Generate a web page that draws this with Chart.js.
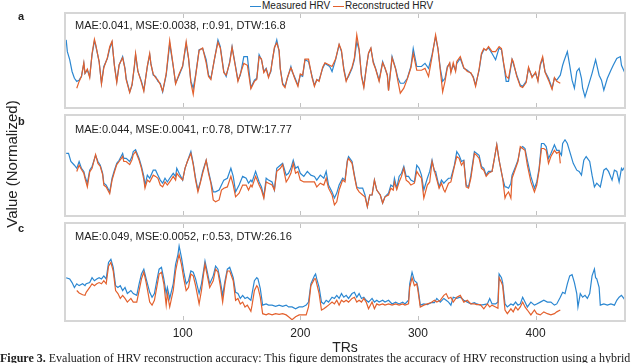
<!DOCTYPE html>
<html>
<head>
<meta charset="utf-8">
<script src="https://cdn.jsdelivr.net/npm/chart.js@4.4.1/dist/chart.umd.min.js"></script>
<style>
body { margin: 0; width: 640px; height: 363px; overflow: hidden; background: #fff; position: relative; font-family: "Liberation Sans", Arial, sans-serif; color: #222; }
canvas { position: absolute; left: 0; }
.stat { position: absolute; left: 75px; font-size: 11px; line-height: 13px; white-space: nowrap; }
.panel-label { position: absolute; left: 18px; font-weight: bold; font-size: 11px; line-height: 12px; }
#legend { position: absolute; top: 0; left: 250px; font-size: 10px; line-height: 11px; white-space: nowrap; }
#legend span.swatch { display: inline-block; width: 11px; height: 0; border-top: 1.5px solid; vertical-align: middle; margin-right: 1px; }
#ylabel { position: absolute; left: 11px; top: 164px; transform: translate(-50%, -50%) rotate(-90deg); font-size: 15px; white-space: nowrap; }
#caption { position: absolute; left: 0; top: 351px; font-family: "Liberation Serif", "Times New Roman", serif; font-size: 12px; line-height: 14px; white-space: nowrap; }
</style>
</head>
<body>
<div id="legend"><span class="swatch" style="border-color:#2b87d1"></span>Measured HRV <span class="swatch" style="border-color:#e3602d"></span>Reconstructed HRV</div>

<canvas id="chartA" width="640" height="99" style="top:11px"></canvas>
<canvas id="chartB" width="640" height="105" style="top:113px"></canvas>
<canvas id="chartC" width="640" height="136" style="top:221px"></canvas>

<div class="panel-label" style="top:10px">a</div>
<div class="panel-label" style="top:115px">b</div>
<div class="panel-label" style="top:222px">c</div>

<div class="stat" style="top:19px">MAE:0.041, MSE:0.0038, r:0.91, DTW:16.8</div>
<div class="stat" style="top:123px">MAE:0.044, MSE:0.0041, r:0.78, DTW:17.77</div>
<div class="stat" style="top:230px">MAE:0.049, MSE:0.0052, r:0.53, DTW:26.16</div>

<div id="ylabel">Value (Normalized)</div>
<div id="caption"><b>Figure 3.</b> Evaluation of HRV reconstruction accuracy: This figure demonstrates the accuracy of HRV reconstruction using a hybrid</div>

<script>
const xTicks = [100, 200, 300, 400];

// panel a
const trA = [
    1, 2, 4, 6, 8, 10, 12, 14, 16, 17,
    19, 21, 23, 25, 26, 29, 31, 33, 36, 38,
    40, 42, 44, 46, 49, 51, 52, 55, 57, 59,
    60, 62, 65, 67, 70, 72, 73, 75, 77, 79,
    81, 83, 86, 89, 92, 94, 97, 100, 103, 105,
    107, 109, 111, 114, 117, 120, 122, 124, 127, 130,
    132, 135, 137, 140, 142, 145, 147, 149, 152, 155,
    158, 161, 163, 165, 167, 169, 171, 173, 175, 176,
    178, 180, 182, 183, 185, 187, 189, 192, 193, 195,
    198, 200, 202, 204, 207, 210, 212, 214, 216, 219,
    221, 225, 227, 230, 233, 235, 237, 239, 241, 244,
    246, 248, 250, 252, 254, 256, 258, 260, 262, 264,
    267, 270, 272, 274, 275, 278, 281, 283, 285, 288,
    291, 294, 296, 299, 303, 306, 309, 312, 315, 317,
    319, 321, 323, 325, 327, 328, 330, 332, 333, 336,
    339, 342, 345, 347, 349, 352, 354, 356, 358, 360,
    363, 366, 369, 371, 373, 375, 377, 380, 381, 384,
    387, 389, 392, 394, 397, 400, 402, 404, 406, 408,
    411, 414, 416, 418, 421, 423, 424, 427, 429, 431,
    433, 435, 437, 439, 440, 442, 445, 448, 451, 454,
    456, 458, 461, 464, 466, 469, 472, 473, 476
];
const measA = [
    0.97, 0.78, 0.65, 0.46, 0.35, 0.30, 0.32, 0.38, 0.59, 0.43,
    0.48, 0.38, 0.73, 0.95, 0.89, 0.62, 0.27, 0.54, 0.67, 0.83,
    0.93, 0.56, 0.30, 0.56, 0.70, 0.51, 0.35, 0.13, 0.24, 0.54,
    0.73, 0.46, 0.30, 0.16, 0.54, 0.73, 0.59, 0.40, 0.38, 0.30,
    0.27, 0.13, 0.40, 0.91, 0.54, 0.27, 0.40, 0.54, 0.91, 0.67,
    0.30, 0.19, 0.40, 0.81, 0.83, 0.65, 0.40, 0.35, 0.65, 0.97,
    0.86, 0.46, 0.38, 0.62, 0.86, 0.54, 0.32, 0.40, 0.70, 0.70,
    0.20, 0.32, 0.35, 0.73, 0.65, 0.46, 0.51, 0.38, 0.46, 0.62,
    0.83, 0.97, 0.78, 0.51, 0.27, 0.22, 0.35, 0.54, 0.46, 0.38,
    0.24, 0.40, 0.38, 0.65, 0.62, 0.38, 0.24, 0.32, 0.32, 0.51,
    0.59, 0.54, 0.46, 0.65, 0.89, 0.78, 0.51, 0.32, 0.38, 0.51,
    0.65, 0.94, 0.81, 0.40, 0.22, 0.51, 0.75, 0.83, 0.62, 0.51,
    0.32, 0.62, 0.51, 0.40, 0.16, 0.70, 0.51, 0.35, 0.27, 0.27,
    0.35, 0.54, 0.83, 0.54, 0.54, 0.59, 0.51, 0.73, 1.02, 0.83,
    0.51, 0.30, 0.35, 0.54, 0.59, 0.46, 0.56, 0.48, 0.59, 0.67,
    0.51, 0.48, 0.43, 0.38, 0.24, 0.48, 0.73, 0.81, 0.81, 0.84,
    0.75, 0.65, 0.84, 0.81, 0.56, 0.30, 0.30, 0.65, 0.59, 0.40,
    0.24, 0.22, 0.30, 0.51, 0.38, 0.43, 0.32, 0.56, 0.67, 0.46,
    0.35, 0.19, 0.35, 0.32, 0.40, 0.56, 0.62, 0.78, 0.56, 0.32,
    0.19, 0.46, 0.51, 0.35, 0.19, 0.05, 0.24, 0.43, 0.65, 0.40,
    0.32, 0.16, 0.35, 0.48, 0.56, 0.67, 0.70, 0.56, 0.43
];
const recA = [
    null, null, null, null, null, 0.19, 0.30, 0.38, 0.60, 0.43,
    0.50, 0.36, 0.75, 0.98, 0.90, 0.62, 0.26, 0.52, 0.68, 0.86,
    0.95, 0.55, 0.28, 0.57, 0.68, 0.50, 0.33, 0.12, 0.25, 0.56,
    0.75, 0.46, 0.28, 0.14, 0.55, 0.75, 0.58, 0.42, 0.36, 0.32,
    0.25, 0.14, 0.42, 0.96, 0.55, 0.26, 0.42, 0.55, 0.94, 0.68,
    0.28, 0.09, 0.38, 0.80, 0.84, 0.60, 0.38, 0.33, 0.66, 0.93,
    0.84, 0.44, 0.40, 0.60, 0.85, 0.52, 0.30, 0.42, 0.59, 0.56,
    0.18, 0.30, 0.33, 0.70, 0.66, 0.44, 0.50, 0.36, 0.48, 0.60,
    0.85, 0.92, 0.80, 0.50, 0.25, 0.20, 0.36, 0.52, 0.48, 0.36,
    0.22, 0.42, 0.40, 0.66, 0.66, 0.36, 0.22, 0.33, 0.30, 0.53,
    0.60, 0.56, 0.54, 0.66, 0.90, 0.80, 0.48, 0.30, 0.40, 0.53,
    0.68, 1.05, 0.82, 0.38, 0.20, 0.50, 0.76, 0.84, 0.60, 0.50,
    0.30, 0.60, 0.52, 0.40, 0.15, 0.68, 0.50, 0.30, 0.11, 0.19,
    0.34, 0.52, 0.75, 0.48, 0.48, 0.51, 0.38, 0.70, 1.05, 0.83,
    0.48, 0.13, 0.30, 0.52, 0.60, 0.44, 0.60, 0.46, 0.62, 0.70,
    0.52, 0.46, 0.44, 0.36, 0.22, 0.50, 0.75, 0.83, 0.80, 0.86,
    0.78, 0.78, 0.86, 0.83, 0.58, 0.38, 0.35, 0.66, 0.62, 0.38,
    0.22, 0.20, 0.28, 0.53, 0.36, 0.45, 0.30, 0.58, 0.70, 0.45,
    0.32, 0.17, 0.36, 0.30, 0.27, null, null, null, null, null,
    null, null, null, null, null, null, null, null, null, null,
    null, null, null, null, null, null, null, null, null
];

// panel b
const trB = [
    1, 3, 5, 8, 10, 12, 14, 16, 17, 19,
    21, 23, 26, 28, 30, 32, 33, 35, 38, 40,
    42, 44, 46, 49, 50, 52, 55, 57, 58, 60,
    63, 65, 67, 68, 70, 72, 75, 77, 79, 81,
    83, 85, 87, 89, 92, 94, 95, 97, 100, 102,
    104, 107, 109, 111, 113, 115, 117, 120, 122, 124,
    126, 128, 131, 133, 135, 138, 141, 143, 145, 148,
    151, 154, 156, 158, 159, 162, 165, 167, 169, 171,
    173, 176, 178, 180, 183, 185, 188, 190, 192, 194,
    196, 198, 200, 203, 206, 209, 212, 214, 217, 220,
    222, 224, 227, 229, 231, 233, 236, 238, 240, 241,
    244, 246, 248, 250, 253, 255, 257, 259, 261, 263,
    265, 268, 270, 272, 275, 277, 279, 280, 282, 284,
    286, 288, 290, 292, 294, 297, 299, 301, 303, 305,
    308, 310, 312, 314, 315, 318, 320, 322, 323, 326,
    328, 331, 333, 335, 337, 339, 341, 343, 345, 348,
    350, 352, 354, 356, 358, 360, 363, 365, 367, 369,
    372, 374, 375, 377, 379, 380, 383, 385, 387, 389,
    391, 393, 396, 399, 401, 403, 405, 407, 409, 411,
    413, 416, 418, 420, 421, 422, 423, 425, 427, 430,
    432, 435, 437, 439, 441, 443, 446, 448, 450, 452,
    455, 458, 460, 462, 465, 467, 469, 471, 473, 474,
    476
];
const measB = [
    0.88, 0.88, 0.75, 0.69, 0.64, 0.75, 0.64, 0.59, 0.51, 0.40,
    0.61, 0.67, 0.85, 0.75, 0.69, 0.56, 0.40, 0.37, 0.26, 0.48,
    0.61, 0.72, 0.77, 0.88, 0.80, 0.80, 0.75, 0.83, 0.91, 0.94,
    0.80, 0.67, 0.51, 0.37, 0.53, 0.48, 0.61, 0.61, 0.53, 0.45,
    0.40, 0.48, 0.42, 0.48, 0.56, 0.51, 0.64, 0.56, 0.45, 0.64,
    0.75, 0.91, 0.72, 0.48, 0.29, 0.42, 0.59, 0.77, 0.59, 0.42,
    0.26, 0.26, 0.29, 0.37, 0.45, 0.48, 0.64, 0.51, 0.26, 0.37,
    0.51, 0.48, 0.40, 0.45, 0.42, 0.59, 0.42, 0.34, 0.18, 0.48,
    0.45, 0.42, 0.29, 0.64, 0.69, 0.72, 0.53, 0.56, 0.64, 0.77,
    0.64, 0.67, 0.56, 0.51, 0.59, 0.53, 0.51, 0.45, 0.53, 0.48,
    0.59, 0.37, 0.26, 0.16, 0.24, 0.37, 0.48, 0.45, 0.77, 0.83,
    0.75, 0.53, 0.34, 0.32, 0.32, 0.21, 0.02, 0.21, 0.21, 0.45,
    0.29, 0.21, 0.08, 0.18, 0.24, 0.37, 0.34, 0.48, 0.32, 0.51,
    0.56, 0.67, 0.51, 0.51, 0.45, 0.42, 0.69, 0.64, 0.53, 0.29,
    0.48, 0.59, 0.77, 0.59, 0.59, 0.34, 0.45, 0.40, 0.42, 0.48,
    0.48, 0.69, 0.91, 0.85, 0.75, 0.77, 0.37, 0.34, 0.53, 0.91,
    0.88, 0.85, 0.67, 0.64, 0.53, 0.59, 0.59, 0.80, 1.02, 0.77,
    0.48, 0.34, 0.34, 0.32, 0.40, 0.53, 0.67, 0.77, 0.96, 0.99,
    0.96, 0.77, 0.51, 0.32, 0.42, 0.64, 1.04, 1.04, 0.99, 0.80,
    0.88, 1.02, 0.93, 0.93, 0.88, 0.85, 1.04, 1.10, 1.04, 0.85,
    0.72, 0.61, 0.59, 0.53, 0.77, 0.83, 0.75, 0.53, 0.34, 0.40,
    0.34, 0.61, 0.64, 0.59, 0.45, 0.61, 0.59, 0.42, 0.64, 0.61,
    0.67
];
const recB = [
    null, null, null, null, 0.59, 0.69, 0.62, 0.56, 0.48, 0.34,
    0.58, 0.64, 0.86, 0.72, 0.67, 0.54, 0.37, 0.34, 0.23, 0.45,
    0.58, 0.70, 0.75, 0.83, 0.75, 0.75, 0.70, 0.78, 0.86, 0.91,
    0.77, 0.64, 0.46, 0.32, 0.45, 0.42, 0.53, 0.51, 0.48, 0.37,
    0.34, 0.42, 0.37, 0.42, 0.51, 0.45, 0.56, 0.51, 0.45, 0.64,
    0.75, 0.88, 0.70, 0.45, 0.26, 0.40, 0.56, 0.77, 0.56, 0.40,
    0.13, 0.10, 0.13, 0.29, 0.32, 0.34, 0.51, 0.37, 0.18, 0.24,
    0.37, 0.37, 0.29, 0.37, 0.34, 0.51, 0.37, 0.29, 0.16, 0.42,
    0.40, 0.37, 0.29, 0.59, 0.64, 0.70, 0.42, 0.48, 0.56, 0.72,
    0.56, 0.59, 0.45, 0.42, 0.42, 0.42, 0.42, 0.34, 0.40, 0.37,
    0.48, 0.32, 0.21, 0.05, 0.10, 0.29, 0.45, 0.42, 0.75, 0.80,
    0.72, 0.51, 0.32, 0.26, 0.21, 0.18, 0.02, 0.21, 0.21, 0.45,
    0.29, 0.21, 0.08, 0.18, 0.21, 0.32, 0.29, 0.42, 0.30, 0.42,
    0.51, 0.64, 0.45, 0.42, 0.37, 0.40, 0.59, 0.53, 0.48, 0.16,
    0.37, 0.42, 0.75, 0.60, 0.53, 0.32, 0.40, 0.29, 0.26, 0.40,
    0.42, 0.67, 0.83, 0.80, 0.69, 0.75, 0.34, 0.32, 0.48, 0.88,
    0.85, 0.80, 0.64, 0.61, 0.51, 0.56, 0.59, 0.80, 1.02, 0.77,
    0.48, 0.16, 0.21, 0.26, 0.16, 0.48, 0.64, 0.75, 0.99, 0.96,
    0.93, 0.69, 0.42, 0.26, 0.37, 0.61, 0.96, 0.96, 0.93, 0.72,
    0.83, 0.93, 0.88, 0.91, 0.72, null, null, null, null, null,
    null, null, null, null, null, null, null, null, null, null,
    null, null, null, null, null, null, null, null, null, null,
    null
];

// panel c
const trC = [
    1, 4, 6, 8, 10, 12, 15, 17, 18, 21,
    23, 25, 27, 29, 31, 33, 35, 37, 39, 41,
    43, 45, 47, 49, 51, 53, 56, 58, 61, 63,
    65, 67, 69, 72, 74, 76, 78, 80, 82, 84,
    86, 87, 89, 92, 94, 96, 97, 99, 101, 103,
    105, 107, 109, 111, 114, 116, 118, 119, 121, 123,
    126, 128, 130, 132, 134, 136, 138, 140, 143, 145,
    147, 149, 151, 153, 155, 158, 159, 161, 163, 164,
    166, 168, 171, 173, 176, 179, 182, 185, 188, 190,
    193, 196, 199, 202, 205, 207, 209, 212, 213, 214,
    216, 218, 220, 222, 224, 227, 229, 231, 233, 235,
    237, 239, 241, 244, 246, 248, 250, 252, 254, 256,
    258, 261, 263, 265, 267, 270, 272, 275, 278, 281,
    284, 287, 289, 292, 293, 295, 297, 299, 300, 302,
    305, 308, 311, 314, 316, 319, 322, 324, 326, 328,
    330, 333, 336, 339, 342, 345, 348, 350, 353, 356,
    359, 361, 363, 366, 368, 369, 371, 372, 374, 376,
    379, 381, 383, 385, 387, 389, 391, 393, 396, 399,
    401, 404, 407, 410, 413, 416, 418, 421, 423, 425,
    427, 429, 431, 433, 435, 436, 438, 440, 442, 444,
    446, 448, 450, 451, 452, 454, 455, 458, 461, 464,
    467, 469, 471, 473, 475, 476
];
const measC = [
    0.70, 0.68, 0.62, 0.54, 0.60, 0.57, 0.60, 0.57, 0.60, 0.62,
    0.70, 0.65, 0.68, 0.70, 0.68, 0.73, 0.68, 0.95, 1.00, 0.87,
    0.57, 0.54, 0.57, 0.49, 0.54, 0.44, 0.49, 0.44, 0.41, 0.60,
    0.76, 0.84, 0.68, 0.46, 0.38, 0.44, 0.65, 0.84, 0.87, 0.68,
    0.44, 0.54, 0.36, 0.60, 0.92, 1.08, 1.22, 1.03, 0.79, 0.60,
    0.65, 0.81, 0.79, 0.68, 0.44, 0.60, 0.84, 0.97, 0.79, 0.60,
    0.73, 0.89, 0.84, 0.65, 0.41, 0.65, 0.84, 0.87, 0.70, 0.46,
    0.44, 0.36, 0.41, 0.36, 0.38, 0.33, 0.44, 0.65, 0.70, 0.68,
    0.52, 0.25, 0.27, 0.25, 0.25, 0.23, 0.25, 0.23, 0.25, 0.22,
    0.22, 0.19, 0.22, 0.22, 0.25, 0.30, 0.60, 0.73, 0.76, 0.68,
    0.54, 0.30, 0.27, 0.33, 0.30, 0.38, 0.36, 0.41, 0.36, 0.44,
    0.38, 0.41, 0.36, 0.44, 0.46, 0.38, 0.44, 0.36, 0.38, 0.33,
    0.30, 0.36, 0.30, 0.33, 0.30, 0.33, 0.30, 0.33, 0.27, 0.30,
    0.27, 0.30, 0.27, 0.33, 0.60, 0.79, 0.65, 0.62, 0.54, 0.25,
    0.27, 0.26, 0.29, 0.29, 0.36, 0.30, 0.36, 0.33, 0.30, 0.25,
    0.38, 0.36, 0.38, 0.33, 0.30, 0.27, 0.29, 0.27, 0.25, 0.26,
    0.27, 0.36, 0.27, 0.27, 0.30, 0.76, 0.70, 0.62, 0.27, 0.22,
    0.27, 0.25, 0.30, 0.25, 0.27, 0.38, 0.30, 0.22, 0.30, 0.25,
    0.27, 0.30, 0.33, 0.30, 0.30, 0.25, 0.27, 0.38, 0.46, 0.44,
    0.60, 0.73, 0.75, 0.62, 0.44, 0.22, 0.44, 0.38, 0.41, 0.36,
    0.44, 0.73, 0.84, 0.70, 0.68, 0.54, 0.25, 0.27, 0.25, 0.27,
    0.25, 0.33, 0.38, 0.41, 0.36, 0.33
];
const recC = [
    null, null, null, null, 0.49, 0.45, 0.42, 0.41, 0.46, 0.54,
    0.60, 0.57, 0.60, 0.62, 0.60, 0.65, 0.60, 0.89, 0.95, 0.81,
    0.49, 0.44, 0.36, 0.41, 0.36, 0.30, 0.36, 0.30, 0.30, 0.49,
    0.68, 0.79, 0.62, 0.30, 0.25, 0.33, 0.54, 0.76, 0.79, 0.60,
    0.25, 0.44, 0.22, 0.49, 0.81, 1.00, 1.08, 0.92, 0.68, 0.49,
    0.54, 0.76, 0.73, 0.57, 0.27, 0.49, 0.79, 0.92, 0.73, 0.54,
    0.65, 0.84, 0.79, 0.57, 0.30, 0.60, 0.81, 0.81, 0.65, 0.33,
    0.36, 0.27, 0.30, 0.22, 0.25, 0.15, 0.25, 0.49, 0.57, 0.54,
    0.38, 0.11, 0.09, 0.11, 0.09, 0.11, 0.10, 0.11, 0.09, 0.06,
    0.01, 0.06, 0.09, 0.09, 0.09, 0.22, 0.57, 0.68, 0.68, 0.60,
    0.44, 0.17, 0.19, 0.22, 0.25, 0.30, 0.27, 0.33, 0.25, 0.33,
    0.30, 0.33, 0.30, 0.36, 0.38, 0.30, 0.33, 0.30, 0.36, 0.30,
    0.19, 0.30, 0.19, 0.27, 0.25, 0.27, 0.25, 0.27, 0.25, 0.27,
    0.25, 0.27, 0.25, 0.27, 0.54, 0.70, 0.57, 0.60, 0.49, 0.22,
    0.25, 0.27, 0.29, 0.33, 0.30, 0.33, 0.41, 0.44, 0.36, 0.38,
    0.30, 0.38, 0.41, 0.30, 0.33, 0.27, 0.27, 0.26, 0.26, 0.19,
    0.27, 0.22, 0.25, 0.22, 0.20, 0.70, 0.62, 0.57, 0.17, 0.11,
    0.19, 0.14, 0.22, 0.17, 0.22, 0.30, 0.22, 0.17, 0.09, 0.17,
    0.11, 0.09, 0.14, 0.11, 0.09, 0.11, 0.14, 0.17, null, null,
    null, null, null, null, null, null, null, null, null, null,
    null, null, null, null, null, null, null, null, null, null,
    null, null, null, null, null, null
];

const measuredColor = '#2b87d1';
const reconColor = '#e3602d';

Chart.defaults.font.family = '"Liberation Sans", Arial, sans-serif';

// light frame round each panel plus MATLAB style inner ticks
const panelFrame = {
    id: 'panelFrame',
    afterDraw(chart) {
        const ctx = chart.ctx;
        const area = chart.chartArea;
        const x = chart.scales.x;
        ctx.save();
        ctx.strokeStyle = '#d6d6d6';
        ctx.lineWidth = 2;
        ctx.strokeRect(area.left, area.top, area.right - area.left, area.bottom - area.top);
        ctx.strokeStyle = '#c2c2c2';
        ctx.lineWidth = 1;
        xTicks.forEach(v => {
            const px = Math.round(x.getPixelForValue(v)) + 0.5;
            ctx.beginPath();
            ctx.moveTo(px, area.top + 1);
            ctx.lineTo(px, area.top + 5);
            ctx.moveTo(px, area.bottom - 1);
            ctx.lineTo(px, area.bottom - 5);
            ctx.stroke();
        });
        ctx.restore();
    }
};

function toPoints(tr, values) {
    return tr.map((t, i) => ({ x: t, y: values[i] }));
}

function makePanel(id, tr, meas, rec, yMin, yMax, showAxis) {
    const ctx = document.getElementById(id).getContext('2d');
    return new Chart(ctx, {
        type: 'line',
        data: {
            datasets: [{
                label: 'Measured HRV',
                data: toPoints(tr, meas),
                borderColor: measuredColor,
                borderWidth: 1.2,
                pointRadius: 0,
                order: 1
            }, {
                label: 'Reconstructed HRV',
                data: toPoints(tr, rec),
                borderColor: reconColor,
                borderWidth: 1.2,
                pointRadius: 0,
                order: 0
            }]
        },
        options: {
            responsive: false,
            animation: false,
            events: [],
            layout: { padding: { left: 65, right: 15, top: 2, bottom: 2 } },
            plugins: {
                legend: { display: false },
                tooltip: { enabled: false }
            },
            scales: {
                x: {
                    type: 'linear',
                    min: 0,
                    max: 476,
                    display: showAxis,
                    grid: { display: false, drawTicks: false },
                    border: { display: false },
                    afterBuildTicks: scale => {
                        scale.ticks = xTicks.map(v => ({ value: v }));
                    },
                    ticks: {
                        padding: 7,
                        color: '#222',
                        font: { size: 12, lineHeight: 1 }
                    },
                    title: {
                        display: showAxis,
                        text: 'TRs',
                        color: '#222',
                        font: { size: 14, lineHeight: 1 },
                        padding: { top: -6, bottom: 0 }
                    }
                },
                y: {
                    display: false,
                    min: yMin,
                    max: yMax
                }
            }
        },
        plugins: [panelFrame]
    });
}

makePanel('chartA', trA, measA, recA, -0.129, 1.403, false);
makePanel('chartB', trB, measB, recB, -0.129, 1.5, false);
makePanel('chartC', trC, measC, recC, -0.01, 1.597, true);
</script>
</body>
</html>
